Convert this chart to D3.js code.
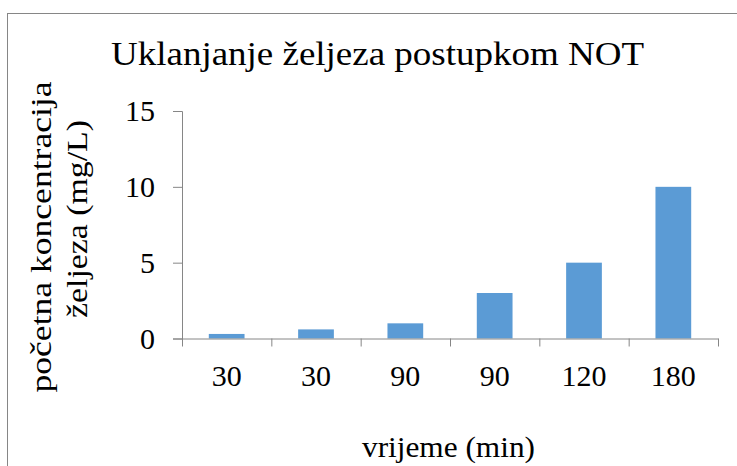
<!DOCTYPE html>
<html>
<head>
<meta charset="utf-8">
<script src="https://cdn.jsdelivr.net/npm/d3@7"></script>
<style>
  html, body { margin: 0; padding: 0; background: #fff; }
  svg { display: block; }
</style>
</head>
<body>
<svg id="chart" width="737" height="466" font-family="'Liberation Serif', 'DejaVu Serif', serif"></svg>
<script>
// Chart data
const categories = ["30", "30", "90", "90", "120", "180"];
const values = [0.3, 0.6, 1, 3, 5, 10];
const yTicks = [0, 5, 10, 15];
const titleText = "Uklanjanje željeza postupkom NOT";
const yTitleLines = ["početna koncentracija", "željeza (mg/L)"];
const xTitleText = "vrijeme (min)";

const FONT = "Liberation Serif";
const svg = d3.select("#chart");
const W = 737, H = 466;
const plot = { left: 182, right: 718, top: 111, bottom: 338.5 };
const axisColor = "#868686";
const barColor = "#5b9bd5";

// Chart frame (runs off the right and bottom edges)
svg.append("rect")
  .attr("x", 7.5).attr("y", 13.5)
  .attr("width", W + 20).attr("height", H + 20)
  .attr("fill", "#fff")
  .attr("stroke", axisColor).attr("stroke-width", 1);

const x = d3.scaleBand()
  .domain(d3.range(categories.length))
  .range([plot.left, plot.right])
  .paddingInner(0.6).paddingOuter(0.3);

const y = d3.scaleLinear().domain([0, 15]).range([plot.bottom, plot.top]);

// Bars
svg.append("g").selectAll("rect")
  .data(values)
  .join("rect")
  .attr("x", (d, i) => x(i))
  .attr("width", x.bandwidth())
  .attr("y", d => y(d))
  .attr("height", d => y(0) - y(d))
  .attr("fill", barColor);

// Y axis
const yAxis = svg.append("g")
  .attr("transform", `translate(${plot.left},0)`)
  .call(d3.axisLeft(y).tickValues(yTicks).tickFormat(d3.format("d")).tickSize(9).tickPadding(18));
yAxis.attr("font-family", FONT).attr("font-size", 30);
yAxis.select(".domain").attr("stroke", axisColor);
yAxis.selectAll(".tick line").attr("stroke", axisColor);
yAxis.selectAll(".tick text")
  .attr("font-family", FONT)
  .attr("font-size", 30)
  .attr("fill", "#000");

// X axis: category boundaries carry the tick marks
const xb = d3.scaleLinear().domain([0, categories.length]).range([plot.left, plot.right]);
const xAxis = svg.append("g")
  .attr("transform", `translate(0,${plot.bottom})`)
  .call(d3.axisBottom(xb).tickValues(d3.range(categories.length + 1)).tickFormat("").tickSize(8).tickSizeOuter(0));
xAxis.select(".domain").attr("stroke", axisColor);
xAxis.selectAll(".tick line").attr("stroke", axisColor);

// Category labels
svg.append("g").selectAll("text")
  .data(categories)
  .join("text")
  .attr("x", (d, i) => x(i) + x.bandwidth() / 2)
  .attr("y", 386)
  .attr("text-anchor", "middle")
  .attr("font-family", FONT)
  .attr("font-size", 30)
  .text(d => d);

// Title
svg.append("text")
  .attr("x", 377.5).attr("y", 65)
  .attr("text-anchor", "middle")
  .attr("font-family", FONT)
  .attr("font-size", 33)
  .attr("textLength", 533)
  .attr("lengthAdjust", "spacingAndGlyphs")
  .text(titleText);

// Y axis title (two lines, rotated)
const yTitleLayout = [
  { cx: 51, cy: 237, len: 311 },
  { cx: 87, cy: 219, len: 198 }
];
yTitleLines.forEach((t, i) => {
  const p = yTitleLayout[i];
  svg.append("text")
    .attr("transform", `translate(${p.cx},${p.cy}) rotate(-90)`)
    .attr("text-anchor", "middle")
    .attr("font-family", FONT)
    .attr("font-size", 30)
    .attr("textLength", p.len)
    .attr("lengthAdjust", "spacingAndGlyphs")
    .text(t);
});

// X axis title
svg.append("text")
  .attr("x", 448.5).attr("y", 457)
  .attr("text-anchor", "middle")
  .attr("font-family", FONT)
  .attr("font-size", 30)
  .attr("textLength", 173)
  .attr("lengthAdjust", "spacingAndGlyphs")
  .text(xTitleText);
</script>
</body>
</html>
